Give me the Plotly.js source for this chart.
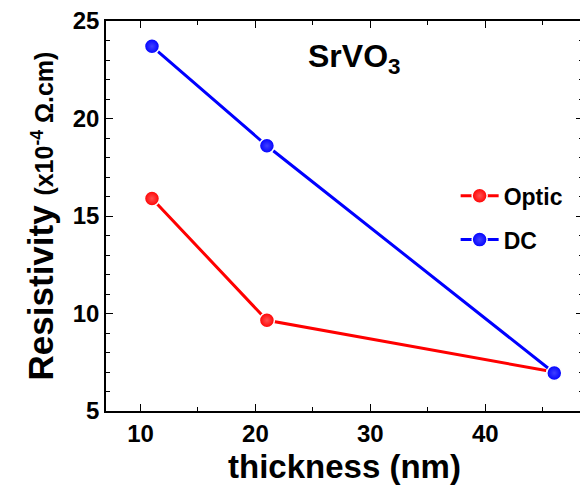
<!DOCTYPE html>
<html>
<head>
<meta charset="utf-8">
<script src="https://cdn.plot.ly/plotly-3.0.1.min.js"></script>
<style>html,body{margin:0;padding:0;overflow:hidden;background:#fff;width:580px;height:486px}</style>
</head>
<body>
<div id="chart" style="width:600px;height:486px"></div>
<script>
const thickness = [11, 21, 46];
const opticValues = [15.9, 9.65, 7.0];
const dcValues = [23.7, 18.6, 6.95];
const seriesNames = ['Optic', 'DC'];
const xTicks = [10, 20, 30, 40];
const yTicks = [5, 10, 15, 20, 25];

const F = 'Arial, "Liberation Sans", sans-serif';

function series(name, y, color, tint, group) {
  return {
    x: thickness, y: y, name: name, legendgroup: group,
    type: 'scatter', mode: 'lines+markers',
    line: {color: color, width: 3},
    marker: {size: 15, color: color, symbol: 'circle',
      gradient: {type: 'radial', color: tint},
      line: {color: '#ffffff', width: 1.5}}
  };
}

const data = [
  series(seriesNames[0], opticValues, '#ff0000', '#ff5050', 'a'),
  series(seriesNames[1], dcValues, '#0000ff', '#4040ff', 'b')
];

const layout = {
  width: 600, height: 486,
  margin: {l: 106, r: 17, t: 21, b: 75},
  paper_bgcolor: '#fff', plot_bgcolor: '#fff',
  font: {family: F, color: '#000'},
  showlegend: true,
  legend: {x: 0.733, y: 0.607, xanchor: 'left', yanchor: 'top', itemwidth: 38,
    font: {family: F, size: 23, weight: 'bold', color: '#000'},
    bgcolor: 'rgba(0,0,0,0)', tracegroupgap: 11, traceorder: 'grouped'},
  xaxis: {
    range: [7, 48.5], tickvals: xTicks, ticktext: xTicks.map(String),
    ticks: 'inside', ticklen: 7, tickwidth: 1.2, tickcolor: '#000',
    minor: {dtick: 5, ticks: 'inside', ticklen: 4, tickwidth: 1.2, tickcolor: '#000'},
    showline: true, linecolor: '#000', linewidth: 1.5, mirror: 'ticks',
    showgrid: false, zeroline: false,
    tickfont: {family: F, size: 24, weight: 'bold'},
    title: {text: 'thickness (nm)', font: {family: F, size: 33, weight: 'bold'}, standoff: 9}
  },
  yaxis: {
    range: [5, 25], tickvals: yTicks, ticktext: yTicks.map(String),
    ticks: 'inside', ticklen: 7, tickwidth: 1.2, tickcolor: '#000',
    minor: {dtick: 1, ticks: 'inside', ticklen: 4, tickwidth: 1.2, tickcolor: '#000'},
    showline: true, linecolor: '#000', linewidth: 1.5, mirror: 'ticks',
    showgrid: false, zeroline: false,
    tickfont: {family: F, size: 24, weight: 'bold'},
    title: {text: 'Resistivity <span style="font-size:25px">(x10<sup>-4</sup> Ω.cm)</span>',
      font: {family: F, size: 35, weight: 'bold'}, standoff: 8}
  },
  annotations: [{
    xref: 'paper', yref: 'paper', x: 0.52, y: 0.905, xanchor: 'center', yanchor: 'middle',
    text: 'SrVO<sub>3</sub>', showarrow: false,
    font: {family: F, size: 32, weight: 'bold', color: '#000'}
  }]
};

Plotly.newPlot('chart', data, layout, {displayModeBar: false, responsive: false});
</script>
</body>
</html>
